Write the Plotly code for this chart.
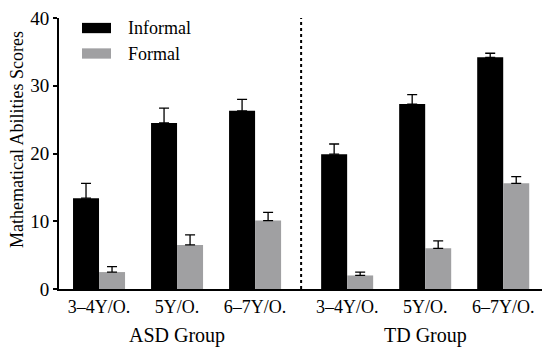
import plotly.graph_objects as go

categories = ["3–4Y/O.", "5Y/O.", "6–7Y/O.", "3–4Y/O.", "5Y/O.", "6–7Y/O."]
positions = [0, 1, 2, 3.18, 4.18, 5.18]
groups = ["ASD Group", "TD Group"]
group_centers = [1, 4.18]
divider_x = 2.59
y_title = "Mathematical Abilities Scores"

informal = [13.4, 24.5, 26.3, 19.9, 27.3, 34.2]
informal_err = [2.2, 2.2, 1.7, 1.5, 1.4, 0.6]
formal = [2.5, 6.5, 10.1, 2.0, 6.0, 15.6]
formal_err = [0.8, 1.5, 1.2, 0.5, 1.1, 1.0]

FONT = "Liberation Serif, Times New Roman, serif"
W = 1/3

fig = go.Figure()
fig.add_trace(go.Bar(
    x=positions, y=informal, width=W, offset=-W, name="Informal",
    marker=dict(color="black", line=dict(width=0)),
    error_y=dict(type="data", array=informal_err, arrayminus=[0]*6, symmetric=False,
                 color="black", thickness=1.3, width=5),
))
fig.add_trace(go.Bar(
    x=positions, y=formal, width=W, offset=0, name="Formal",
    marker=dict(color="#a0a0a2", line=dict(width=0)),
    error_y=dict(type="data", array=formal_err, arrayminus=[0]*6, symmetric=False,
                 color="black", thickness=1.3, width=5),
))

fig.add_shape(type="line", x0=divider_x, x1=divider_x, y0=0, y1=40, xref="x", yref="y",
              line=dict(color="black", width=2, dash="dot"))

# legend
leg = [("Informal", "black", 0.963), ("Formal", "#a0a0a2", 0.869)]
for name, col, yp in leg:
    fig.add_shape(type="rect", xref="paper", yref="paper",
                  x0=(82-59)/484, x1=(111-59)/484, y0=yp-0.019, y1=yp+0.019,
                  fillcolor=col, line=dict(width=0))
    fig.add_annotation(text=name, xref="paper", yref="paper", x=(126-59)/484, y=yp,
                       xanchor="left", yanchor="middle", showarrow=False,
                       font=dict(family=FONT, size=18, color="black"))

for g, c in zip(groups, group_centers):
    fig.add_annotation(text=g, x=c, xref="x", y=-0.17, yref="paper", yanchor="middle",
                       showarrow=False, font=dict(family=FONT, size=20, color="black"))

fig.add_annotation(text=y_title, xref="paper", yref="paper", x=-42/484, y=0.55,
                   textangle=-90, xanchor="center", yanchor="middle", showarrow=False,
                   font=dict(family=FONT, size=18, color="black"))

# page body has an 8px margin, so the figure is 8px smaller and shifted
fig.update_layout(
    width=542, height=344,
    margin=dict(l=51, r=7, t=10, b=63),
    plot_bgcolor="white", paper_bgcolor="white",
    showlegend=False,
    font=dict(family=FONT, size=18, color="black"),
    xaxis=dict(range=[-0.513, 5.69], tickvals=positions, ticktext=categories,
               showline=True, linecolor="black", linewidth=2, ticks="",
               showgrid=False, zeroline=False, tickfont=dict(size=18), automargin=False,
               ticklabeloverflow="allow"),
    yaxis=dict(range=[0, 40], tickvals=[0, 10, 20, 30, 40], showline=True,
               linecolor="black", linewidth=2, ticks="outside", ticklen=4,
               tickwidth=2, tickcolor="black", showgrid=False, zeroline=False,
               tickfont=dict(size=19), automargin=False, ticklabeloverflow="allow"),
)

fig.write_html("out.html")
